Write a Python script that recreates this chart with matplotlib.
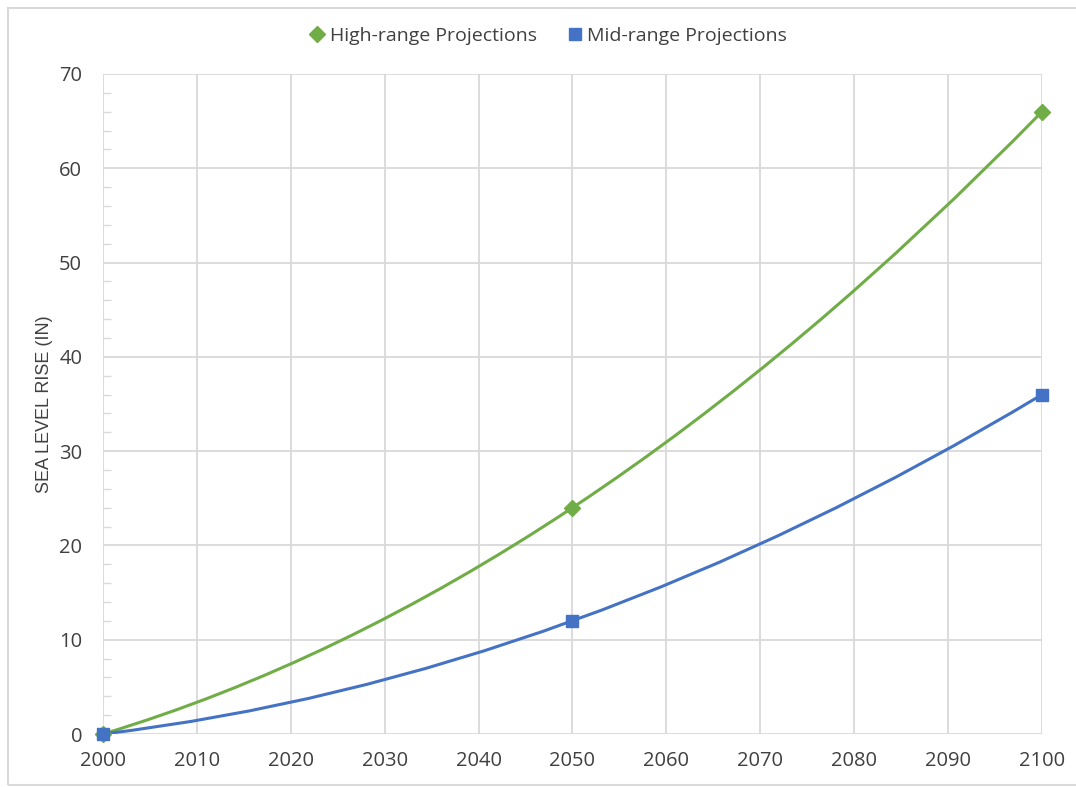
import matplotlib
matplotlib.use("Agg")
import matplotlib.pyplot as plt
from matplotlib.path import Path
from matplotlib.patches import PathPatch, Rectangle
from matplotlib.lines import Line2D
from matplotlib.ticker import MultipleLocator

years = [2000, 2050, 2100]
high_range = [0, 24, 66]
mid_range = [0, 12, 36]

series_labels = ["High-range Projections", "Mid-range Projections"]
GREEN = "#70AD47"
BLUE = "#4472C4"
TEXT = "#404040"
GRID = "#D9D9D9"

plt.rcParams["font.family"] = ["Open Sans", "DejaVu Sans"]


def smooth_path(xs, ys):
    # one quadratic bezier passing through the three points (Excel-like smoothing)
    cy = 2 * ys[1] - (ys[0] + ys[2]) / 2
    verts = [(xs[0], ys[0]), (xs[1], cy), (xs[2], ys[2])]
    return Path(verts, [Path.MOVETO, Path.CURVE3, Path.CURVE3])


fig = plt.figure(figsize=(10.76, 7.87), dpi=100)
ax = fig.add_axes([0.0957, 0.0673, 0.8727, 0.8387])

for ys, color, marker, ms in [(high_range, GREEN, "D", 8), (mid_range, BLUE, "s", 9)]:
    ax.add_patch(PathPatch(smooth_path(years, ys), facecolor="none",
                           edgecolor=color, lw=2.2, zorder=3))
    ax.plot(years, ys, linestyle="none", marker=marker, ms=ms,
            color=color, zorder=4, clip_on=False)

ax.set_xlim(2000, 2100)
ax.set_ylim(0, 70)
ax.xaxis.set_major_locator(MultipleLocator(10))
ax.yaxis.set_major_locator(MultipleLocator(10))
ax.yaxis.set_minor_locator(MultipleLocator(2))
ax.grid(True, which="major", color=GRID, lw=1.3)
ax.set_axisbelow(True)
for s in ax.spines.values():
    s.set_visible(False)

ax.tick_params(axis="x", which="major", length=0, pad=12, labelsize=14.5, labelcolor=TEXT)
ax.tick_params(axis="y", which="major", length=0, pad=15, labelsize=14.5, labelcolor=TEXT)
ax.tick_params(axis="y", which="minor", direction="in", length=6, width=1, color=GRID)

ax.set_ylabel("SEA LEVEL RISE (IN)", fontsize=13, color=TEXT,
              family=["Liberation Sans", "DejaVu Sans"])
ax.yaxis.set_label_coords(-0.053, 0.5)

handles = [
    Line2D([], [], linestyle="none", marker="D", ms=8, color=GREEN),
    Line2D([], [], linestyle="none", marker="s", ms=8, color=BLUE),
]
fig.legend(handles, series_labels, loc="center", bbox_to_anchor=(0.5085, 0.954),
           ncol=2, frameon=False, fontsize=14, labelcolor=TEXT,
           handletextpad=0.15, columnspacing=1.45, handlelength=1.0)

# light chart border
fig.add_artist(Rectangle((0.0075, 0.003), 1.2, 0.987, transform=fig.transFigure,
                         fill=False, edgecolor="#D9D9D9", lw=1.5))

fig.savefig("out.png", dpi=100)
